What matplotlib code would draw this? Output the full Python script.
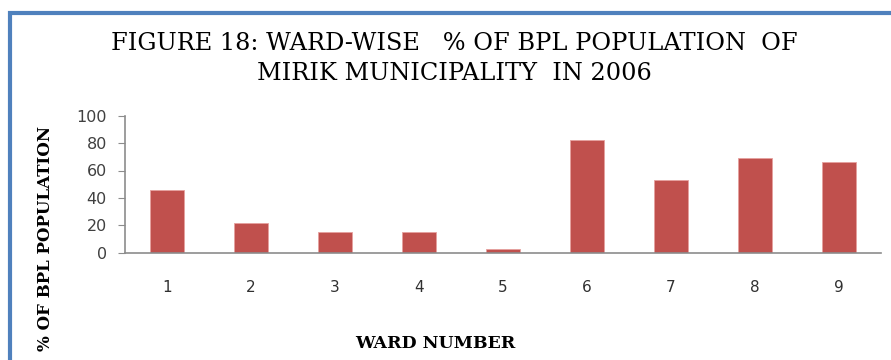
import matplotlib.pyplot as plt
from matplotlib.patches import Rectangle

wards = ['1', '2', '3', '4', '5', '6', '7', '8', '9']
bpl_pct = [46, 22, 15, 15, 2.5, 82, 53, 69, 66]
y_ticks = [0, 20, 40, 60, 80, 100]

fig = plt.figure(figsize=(8.91, 3.6), dpi=100)

# chart frame (cut off at right and bottom)
fig.patches.append(Rectangle((10 / 891, -0.2), 1.2, (360 - 13) / 360 + 0.2,
                             transform=fig.transFigure, fill=False,
                             edgecolor='#4f81bd', lw=3))

ax = fig.add_axes([125 / 891, (360 - 252.7) / 360, 756 / 891, 137 / 360])
x = range(len(wards))
ax.bar(x, bpl_pct, width=0.4, color='#c0504d', edgecolor='#e6a09e', lw=0.6)
ax.set_xlim(-0.5, len(wards) - 0.5)
ax.set_ylim(0, 100)
ax.set_yticks(y_ticks)
ax.set_xticks(list(x))
ax.set_xticklabels(wards)

for side in ['top', 'right']:
    ax.spines[side].set_visible(False)
for side in ['left', 'bottom']:
    ax.spines[side].set_color('#8c8c8c')
    ax.spines[side].set_linewidth(1.2)
ax.tick_params(axis='y', length=5, color='#8c8c8c', labelsize=11.5, labelcolor='#404040', pad=8)
ax.tick_params(axis='x', length=0, labelsize=11, labelcolor='#303030', pad=20)

title_font = dict(ha='center', va='center', family='DejaVu Serif', fontsize=17.3)
fig.text(0.51, 1 - 44 / 360, 'FIGURE 18: WARD-WISE   % OF BPL POPULATION  OF', **title_font)
fig.text(0.51, 1 - 74 / 360, 'MIRIK MUNICIPALITY  IN 2006', **title_font)
fig.text(46 / 891, (360 - 126) / 360, '% OF BPL POPULATION', rotation=90,
         ha='center', va='top', family='DejaVu Serif', fontweight='bold', fontsize=12)
fig.text(435 / 891, (360 - 343) / 360, 'WARD NUMBER',
         ha='center', va='center', family='DejaVu Serif', fontweight='bold', fontsize=12.5)

fig.savefig('out.png', dpi=100)
